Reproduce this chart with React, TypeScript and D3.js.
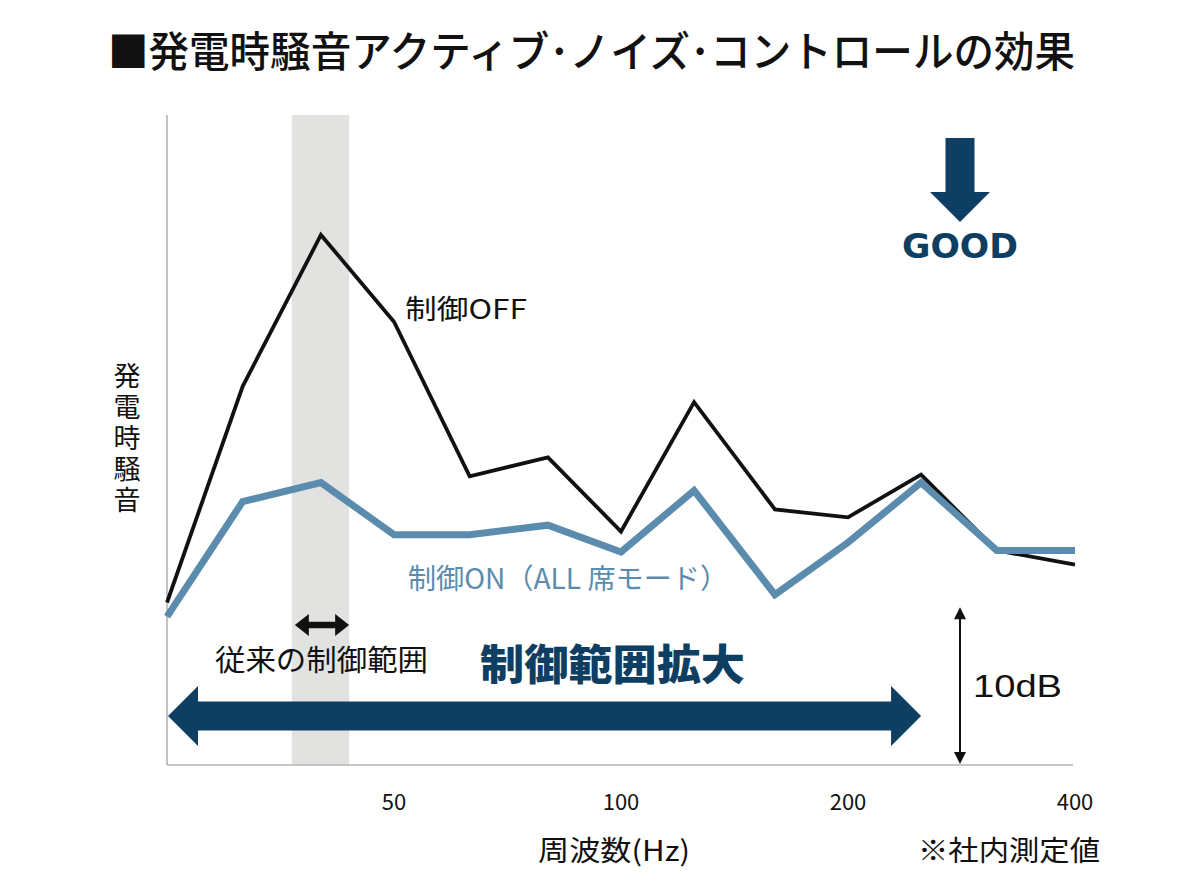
import React from "react";
import * as d3 from "d3";

const freqs = [25, 31.5, 40, 50, 63, 80, 100, 125, 160, 200, 250, 315, 400];
const offValues = [10.3, 24.0, 33.6, 28.1, 18.3, 19.5, 14.8, 23.0, 16.2, 15.7, 18.4, 13.6, 12.7];
const onValues = [9.4, 16.7, 17.9, 14.6, 14.6, 15.2, 13.5, 17.4, 10.8, 14.1, 17.9, 13.6, 13.6];
const xTicks = [50, 100, 200, 400];
const yLabel = "発電時騒音";
const conventionalBand = [36.6, 43.6];
const expandedRange = [25, 250];
const scaleBarDb = 10;

const W = 1200;
const H = 896;
const left = 167;
const right = 1075;
const top = 115;
const bottom = 765;

const NAVY = "#0e3e62";
const BLUE = "#5b8cae";
const JP = "'Noto Sans CJK JP', 'Noto Sans', sans-serif";

export default function App() {
  const x = d3.scaleLog().domain([25, 400]).range([left, right]);
  const y = d3.scaleLinear().domain([0, 41.2]).range([bottom, top]);

  const line = d3
    .line<number>()
    .x((_, i) => x(freqs[i]))
    .y((d) => y(d));

  const bx0 = x(conventionalBand[0]);
  const bx1 = x(conventionalBand[1]);

  // big double arrow
  const ax0 = x(expandedRange[0]) + 1;
  const ax1 = x(expandedRange[1]);
  const ay = 716;
  const headL = 30;
  const headH = 30;
  const shaftH = 14.5;
  const bigArrow = [
    [ax0, ay],
    [ax0 + headL, ay - headH],
    [ax0 + headL, ay - shaftH],
    [ax1 - headL, ay - shaftH],
    [ax1 - headL, ay - headH],
    [ax1, ay],
    [ax1 - headL, ay + headH],
    [ax1 - headL, ay + shaftH],
    [ax0 + headL, ay + shaftH],
    [ax0 + headL, ay + headH],
  ];

  // small double arrow
  const sx0 = bx0 + 3;
  const sx1 = bx1;
  const sy = 625;
  const sHeadL = 14;
  const sHeadH = 11;
  const sShaft = 3.2;
  const smallArrow = [
    [sx0, sy],
    [sx0 + sHeadL, sy - sHeadH],
    [sx0 + sHeadL, sy - sShaft],
    [sx1 - sHeadL, sy - sShaft],
    [sx1 - sHeadL, sy - sHeadH],
    [sx1, sy],
    [sx1 - sHeadL, sy + sHeadH],
    [sx1 - sHeadL, sy + sShaft],
    [sx0 + sHeadL, sy + sShaft],
    [sx0 + sHeadL, sy + sHeadH],
  ];

  // GOOD arrow
  const gx = 960;
  const goodArrow = [
    [gx - 14.5, 138],
    [gx + 14.5, 138],
    [gx + 14.5, 192],
    [gx + 30, 192],
    [gx, 222],
    [gx - 30, 192],
    [gx - 14.5, 192],
  ];

  const toPts = (p: number[][]) => p.map((q) => q.join(",")).join(" ");

  // 10dB scale bar
  const dbX = 960;
  const dbTop = y(scaleBarDb);
  const dbBot = y(0) - 1;

  return (
    <svg
      width={W}
      height={H}
      style={{ position: "absolute", left: 0, top: 0, background: "#fff" }}
    >
      <rect x={0} y={0} width={W} height={H} fill="#fff" />
      {/* title */}
      <text
        x={108}
        y={67}
        fontFamily={JP}
        fontSize={42}
        fontWeight={500}
        fill="#111"
        textLength={967}
        lengthAdjust="spacingAndGlyphs"
      >
        ■発電時騒音アクティブ･ノイズ･コントロールの効果
      </text>

      {/* conventional band */}
      <rect x={bx0} y={top} width={bx1 - bx0} height={bottom - top} fill="#e2e2e0" />

      {/* axes */}
      <line x1={left} y1={top} x2={left} y2={bottom} stroke="#b4b4b4" strokeWidth={1.6} />
      <line x1={left} y1={bottom} x2={1073} y2={bottom} stroke="#b4b4b4" strokeWidth={1.6} />

      {/* lines */}
      <path
        d={line(offValues) || ""}
        fill="none"
        stroke="#111"
        strokeWidth={3.8}
        strokeLinejoin="miter"
      />
      <path
        d={line(onValues) || ""}
        fill="none"
        stroke={BLUE}
        strokeWidth={7}
        strokeLinejoin="miter"
      />

      {/* series labels */}
      <text
        x={405}
        y={319}
        fontFamily={JP}
        fontSize={27}
        fill="#111"
        textLength={122}
        lengthAdjust="spacingAndGlyphs"
      >
        制御OFF
      </text>
      <text
        x={408}
        y={589}
        fontFamily={JP}
        fontSize={28}
        fill={BLUE}
        textLength={320}
        lengthAdjust="spacingAndGlyphs"
      >
        制御ON（ALL 席モード）
      </text>

      {/* small arrow and label */}
      <polygon points={toPts(smallArrow)} fill="#111" />
      <text
        x={215}
        y={671}
        fontFamily={JP}
        fontSize={29}
        fill="#111"
        textLength={213}
        lengthAdjust="spacingAndGlyphs"
      >
        従来の制御範囲
      </text>

      {/* big arrow and label */}
      <polygon points={toPts(bigArrow)} fill={NAVY} />
      <text
        x={480}
        y={680}
        fontFamily={JP}
        fontSize={42}
        fontWeight={900}
        fill={NAVY}
        textLength={265}
        lengthAdjust="spacingAndGlyphs"
      >
        制御範囲拡大
      </text>

      {/* GOOD */}
      <polygon points={toPts(goodArrow)} fill={NAVY} />
      <text
        x={960}
        y={258}
        textAnchor="middle"
        fontFamily="'DejaVu Sans', 'Open Sans', sans-serif"
        fontSize={34}
        fontWeight={700}
        fill={NAVY}
        textLength={116}
        lengthAdjust="spacingAndGlyphs"
      >
        GOOD
      </text>

      {/* 10dB bar */}
      <line x1={dbX} y1={dbTop + 10} x2={dbX} y2={dbBot - 10} stroke="#111" strokeWidth={2} />
      <polygon
        points={toPts([
          [dbX, dbTop],
          [dbX + 6, dbTop + 12],
          [dbX - 6, dbTop + 12],
        ])}
        fill="#111"
      />
      <polygon
        points={toPts([
          [dbX, dbBot],
          [dbX + 6, dbBot - 12],
          [dbX - 6, dbBot - 12],
        ])}
        fill="#111"
      />
      <text
        x={973}
        y={697}
        fontFamily="'Liberation Sans', Arial, sans-serif"
        fontSize={32}
        fill="#111"
        textLength={89}
        lengthAdjust="spacingAndGlyphs"
      >
        10dB
      </text>

      {/* y label (vertical) */}
      <text
        x={127}
        y={362}
        fontFamily={JP}
        fontSize={27}
        fill="#111"
        style={{ writingMode: "vertical-rl", letterSpacing: "4px" } as React.CSSProperties}
      >
        {yLabel}
      </text>

      {/* x ticks */}
      {xTicks.map((t) => (
        <text
          key={t}
          x={x(t)}
          y={810}
          textAnchor="middle"
          fontFamily={JP}
          fontSize={22}
          fill="#111"
        >
          {t}
        </text>
      ))}

      <text
        x={614}
        y={861}
        textAnchor="middle"
        fontFamily={JP}
        fontSize={28}
        fill="#111"
        textLength={152}
        lengthAdjust="spacingAndGlyphs"
      >
        周波数(Hz)
      </text>
      <text
        x={1100}
        y={861}
        textAnchor="end"
        fontFamily={JP}
        fontSize={28}
        fill="#111"
        textLength={182}
        lengthAdjust="spacingAndGlyphs"
      >
        ※社内測定値
      </text>
    </svg>
  );
}
